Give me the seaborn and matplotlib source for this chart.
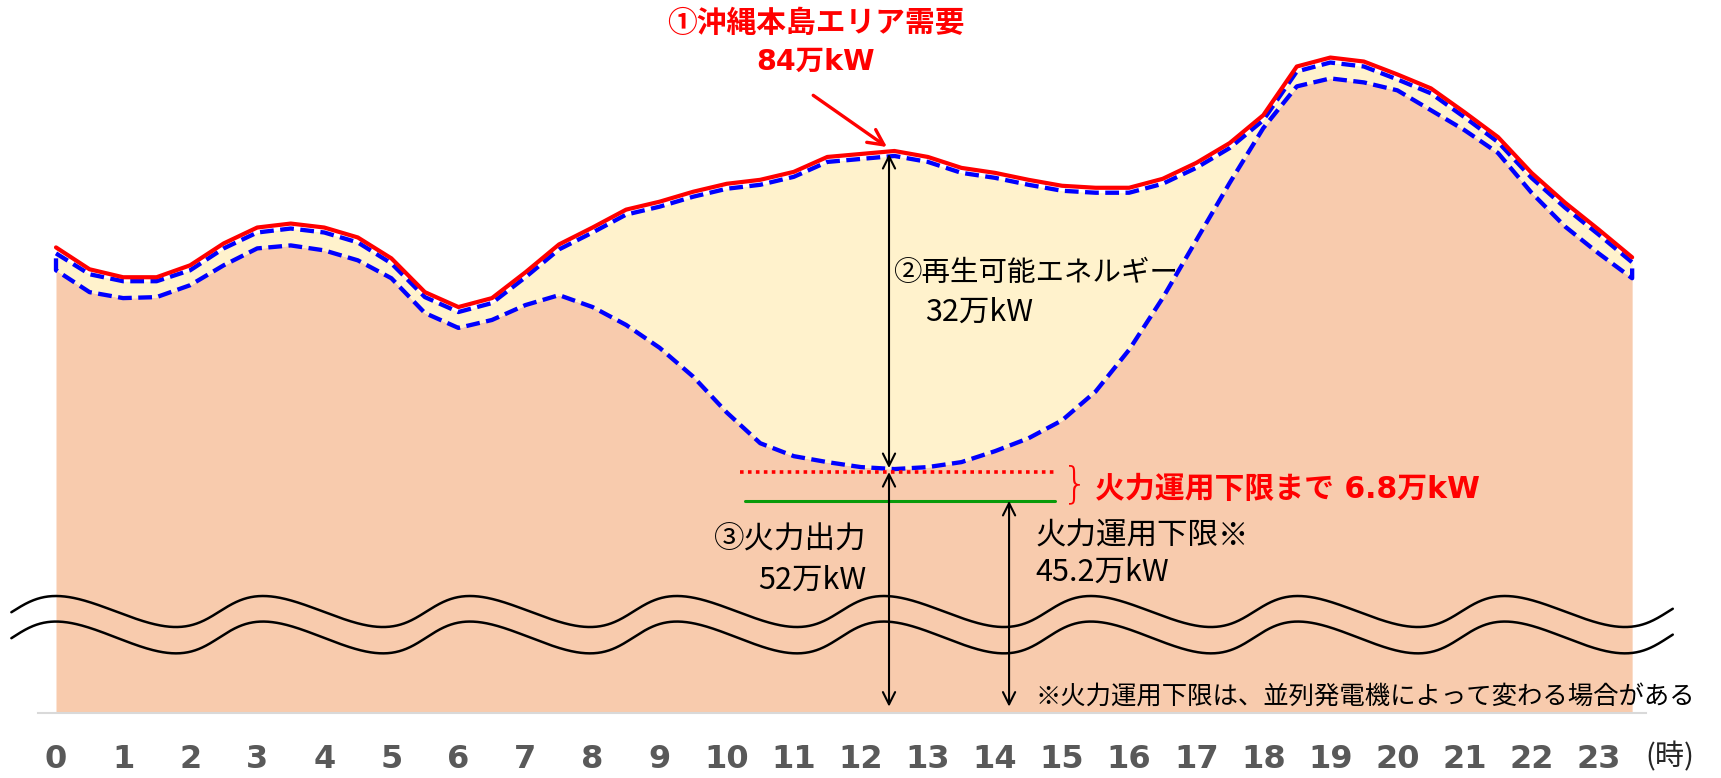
import numpy as np
import pandas as pd
import matplotlib
matplotlib.use("Agg")
import matplotlib.pyplot as plt
import seaborn as sns

# half-hour steps 0:00 - 23:30
hours = np.arange(0, 24, 0.5)

# ① area demand (万kW), red line
demand = [74.3, 72.1, 71.3, 71.3, 72.5, 74.7, 76.3, 76.7, 76.3, 75.3,
          73.2, 69.8, 68.3, 69.2, 71.8, 74.6, 76.3, 78.1, 78.9, 79.9,
          80.7, 81.1, 81.9, 83.4, 83.7, 84.0, 83.4, 82.3, 81.8, 81.1,
          80.5, 80.3, 80.3, 81.2, 82.8, 84.8, 87.6, 92.5, 93.4, 93.0,
          91.7, 90.3, 87.9, 85.4, 81.8, 78.8, 76.1, 73.3]

# upper blue dashed line (top of renewable band)
upper = [73.7, 71.6, 70.9, 70.9, 72.0, 74.2, 75.8, 76.2, 75.8, 74.8,
         72.7, 69.3, 67.8, 68.7, 71.3, 74.1, 75.8, 77.6, 78.4, 79.4,
         80.2, 80.6, 81.4, 82.9, 83.2, 83.5, 82.9, 81.8, 81.3, 80.6,
         80.0, 79.8, 79.8, 80.7, 82.3, 84.3, 87.1, 92.0, 92.9, 92.5,
         91.2, 89.8, 87.4, 84.9, 81.3, 78.3, 75.6, 72.8]

# ③ thermal output, lower blue dashed line
thermal = [72.0, 69.8, 69.2, 69.3, 70.5, 72.5, 74.2, 74.5, 74.0, 73.0,
           71.2, 67.7, 66.2, 67.0, 68.5, 69.5, 68.3, 66.5, 64.2, 61.3,
           57.7, 54.6, 53.3, 52.7, 52.2, 52.0, 52.2, 52.7, 53.8, 55.1,
           56.9, 59.8, 64.0, 69.2, 75.0, 80.8, 86.3, 90.5, 91.3, 90.9,
           90.1, 88.1, 86.1, 83.8, 79.8, 76.4, 73.7, 71.2]

# reference levels drawn between 10:12 and 14:55
level_span = [10.2, 14.92]
thermal_now = 51.7     # red dotted
thermal_floor = 48.8   # green
base = 27.46           # bottom of (broken) axis

tick_labels = [str(h) for h in range(24)]

sns.set_theme(style="white")
plt.rcParams["font.family"] = ["Noto Sans CJK JP", "DejaVu Sans"]
latin_first = ["DejaVu Sans", "Noto Sans CJK JP"]

fig = plt.figure(figsize=(17.21, 7.78), dpi=100)
ax = fig.add_axes([0, 65 / 778, 1, 713 / 778])

df = pd.DataFrame({"hour": hours, "demand": demand, "upper": upper, "thermal": thermal})

# areas
ax.fill_between(df["hour"], base, df["thermal"], color="#F8CBAD", lw=0, zorder=1)
ax.fill_between(df["hour"], df["thermal"], df["upper"], color="#FFF2CC", lw=0, zorder=1)

# blue dashed outline around renewable band
outline = pd.DataFrame({
    "hour": list(hours) + list(hours[::-1]) + [hours[0]],
    "val": list(upper) + list(thermal[::-1]) + [upper[0]],
})
sns.lineplot(data=outline, x="hour", y="val", sort=False, estimator=None,
             color="#0000FF", lw=3.1, linestyle=(0, (3.2, 1.5)), ax=ax, zorder=3)
sns.lineplot(data=df, x="hour", y="demand", color="#FF0000", lw=3.0, ax=ax, zorder=4)

# levels
ax.plot(level_span, [thermal_now] * 2, color="#FF0000", lw=2.6,
        linestyle=(0, (1.0, 1.2)), zorder=3)
ax.plot([10.27, 14.9], [thermal_floor] * 2, color="#0A9A0A", lw=2.2, zorder=3)


# axis break waves
def break_wave(center, amp, period=3.086, k=0.251):
    t = np.linspace(-2.5, 2 * np.pi * 8.2, 3000)
    h = period / (2 * np.pi) * (t - k * np.cos(t)) + period * k / (2 * np.pi)
    v = center + amp * np.cos(t)
    keep = (h >= -0.67) & (h <= 24.11)
    return h[keep], v[keep]


for c, a in [(37.67, 1.56), (35.06, 1.6)]:
    wx, wy = break_wave(c, a)
    ax.plot(wx, wy, color="black", lw=1.8, zorder=5)

# arrows
arr = dict(arrowstyle="<->", color="black", lw=1.5, mutation_scale=22,
           shrinkA=0, shrinkB=0)
ax.annotate("", xy=(12.42, 83.7), xytext=(12.42, 52.1), arrowprops=arr, zorder=6)
ax.annotate("", xy=(12.42, thermal_now), xytext=(12.42, 28.1), arrowprops=arr, zorder=6)
ax.annotate("", xy=(14.21, thermal_floor), xytext=(14.21, 28.1), arrowprops=arr, zorder=6)
ax.annotate("", xy=(12.39, 84.4), xytext=(11.29, 89.6),
            arrowprops=dict(arrowstyle="->", color="#FF0000", lw=2.4,
                            mutation_scale=28, shrinkA=0, shrinkB=0), zorder=6)

# texts
red = "#FF0000"
ax.text(11.33, 96.9, "①沖縄本島エリア需要", color=red, fontsize=21.4,
        fontweight="bold", ha="center", va="center")
ax.text(11.33, 92.95, "84万kW", color=red, fontsize=20.5, family=latin_first,
        fontweight="bold", ha="center", va="center")
ax.text(12.48, 71.7, "②再生可能エネルギー", fontsize=20.5, ha="left", va="center",
        color="black", zorder=7)
ax.text(12.96, 67.8, "32万kW", fontsize=22, ha="left", va="center", color="black")
ax.text(12.09, 44.9, "③火力出力", fontsize=22, ha="right", va="center", color="black")
ax.text(12.09, 40.8, "52万kW", fontsize=22, ha="right", va="center", color="black")
ax.text(14.6, 45.3, "火力運用下限※", fontsize=22, ha="left", va="center", color="black")
ax.text(14.6, 41.6, "45.2万kW", fontsize=22, ha="left", va="center", color="black")
ax.text(14.61, 29.1, "※火力運用下限は、並列発電機によって変わる場合がある",
        fontsize=18.3, ha="left", va="center", color="black", zorder=7)
ax.text(15.0, 50.4, "}", fontsize=30, color=red, ha="left", va="center",
        family="DejaVu Sans", fontweight="light")
ax.text(15.49, 49.9, "火力運用下限まで 6.8万kW", color=red, fontsize=21.5,
        family=latin_first, fontweight="bold", ha="left", va="center")
ax.text(24.06, 23.0, "(時)", fontsize=21, ha="center", va="center", color="#262626")

# axes
ax.set_xlim(-56 / 67.07, (1721 - 56) / 67.07)
ax.set_ylim(base, 99.19)
ax.set_xticks(range(24))
ax.set_xticklabels(tick_labels, fontsize=23, fontweight="bold", color="#595959",
                   family="DejaVu Sans")
ax.tick_params(axis="x", length=0, pad=22)
ax.set_yticks([])
ax.set_xlabel("")
ax.set_ylabel("")
for s in ["left", "right", "top"]:
    ax.spines[s].set_visible(False)
ax.spines["bottom"].set_color("#D9D9D9")
ax.spines["bottom"].set_linewidth(1.5)
ax.spines["bottom"].set_bounds(-0.27, 23.71)
ax.set_facecolor("white")

fig.savefig("out.png", dpi=100)
